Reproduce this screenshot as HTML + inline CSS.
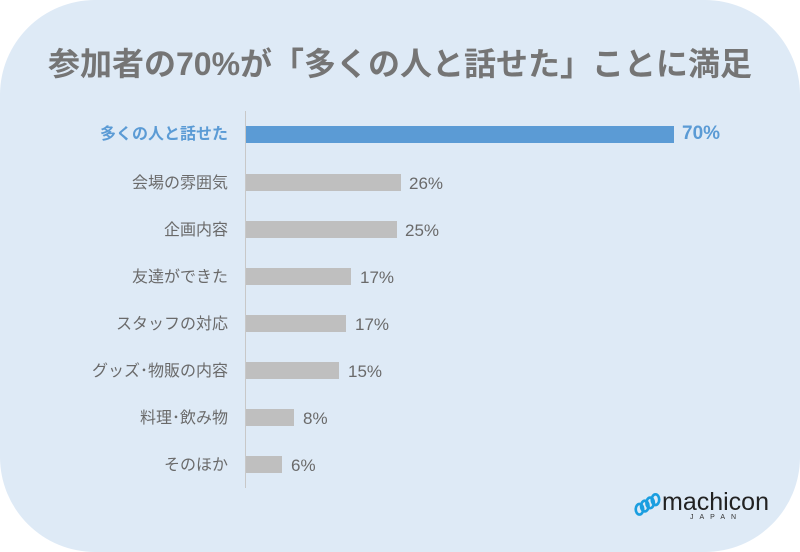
<!DOCTYPE html>
<html><head><meta charset="utf-8"><style>
body{margin:0;width:800px;height:552px;background:#fff;position:relative;overflow:hidden;font-family:"Liberation Sans","Noto Sans CJK JP",sans-serif}
.bg{position:absolute;left:0;top:0;width:800px;height:552px;background:#deeaf6;border-radius:95px}
.t{position:absolute;left:0;width:800px;top:39px;text-align:center;font-size:32px;font-weight:bold;color:#757575;white-space:nowrap}
.ax{position:absolute;left:245px;top:111px;width:1px;height:377px;background:#c8c8c8}
.lb{position:absolute;right:572px;font-size:16px;color:#6a6a6a;white-space:nowrap;line-height:20px}
.bar{position:absolute;left:246px;height:17px;background:#bfbfbf}
.v{position:absolute;font-size:17px;color:#6a6a6a;line-height:20px}
</style></head><body>
<div class="bg"></div>
<div class="t">参加者の70%が「多くの人と話せた」ことに満足</div>
<div class="ax"></div>

<div class="lb" style="top:125px;color:#5b9bd5;font-weight:bold">多くの人と話せた</div>
<div class="bar" style="top:126px;width:428px;background:#5b9bd5"></div>
<div class="v" style="top:124px;left:682px;color:#5b9bd5;font-weight:bold;font-size:19px">70%</div>

<div class="lb" style="top:174px">会場の雰囲気</div>
<div class="bar" style="top:174px;width:155px"></div>
<div class="v" style="top:174px;left:409px">26%</div>

<div class="lb" style="top:221px">企画内容</div>
<div class="bar" style="top:221px;width:151px"></div>
<div class="v" style="top:221px;left:405px">25%</div>

<div class="lb" style="top:268px">友達ができた</div>
<div class="bar" style="top:268px;width:105px"></div>
<div class="v" style="top:268px;left:360px">17%</div>

<div class="lb" style="top:315px">スタッフの対応</div>
<div class="bar" style="top:315px;width:100px"></div>
<div class="v" style="top:315px;left:355px">17%</div>

<div class="lb" style="top:362px">グッズ･物販の内容</div>
<div class="bar" style="top:362px;width:93px"></div>
<div class="v" style="top:362px;left:348px">15%</div>

<div class="lb" style="top:409px">料理･飲み物</div>
<div class="bar" style="top:409px;width:48px"></div>
<div class="v" style="top:409px;left:303px">8%</div>

<div class="lb" style="top:456px">そのほか</div>
<div class="bar" style="top:456px;width:36px"></div>
<div class="v" style="top:456px;left:291px">6%</div>

<svg style="position:absolute;left:632px;top:490px" width="32" height="30" viewBox="0 0 30 28">
<g fill="none" stroke="#1a9ee0" stroke-width="2.5">
<ellipse cx="7" cy="18" rx="3.5" ry="5"/><ellipse cx="12" cy="15" rx="3.5" ry="5"/><ellipse cx="17" cy="12" rx="3.5" ry="5"/><ellipse cx="22" cy="9" rx="3.5" ry="5"/></g></svg>
<div style="position:absolute;left:662px;top:489px;font-size:25px;color:#222;line-height:26px">machicon</div>
<div style="position:absolute;left:690px;top:514px;font-size:7px;color:#333;letter-spacing:6px">JAPAN</div>
</body></html>
